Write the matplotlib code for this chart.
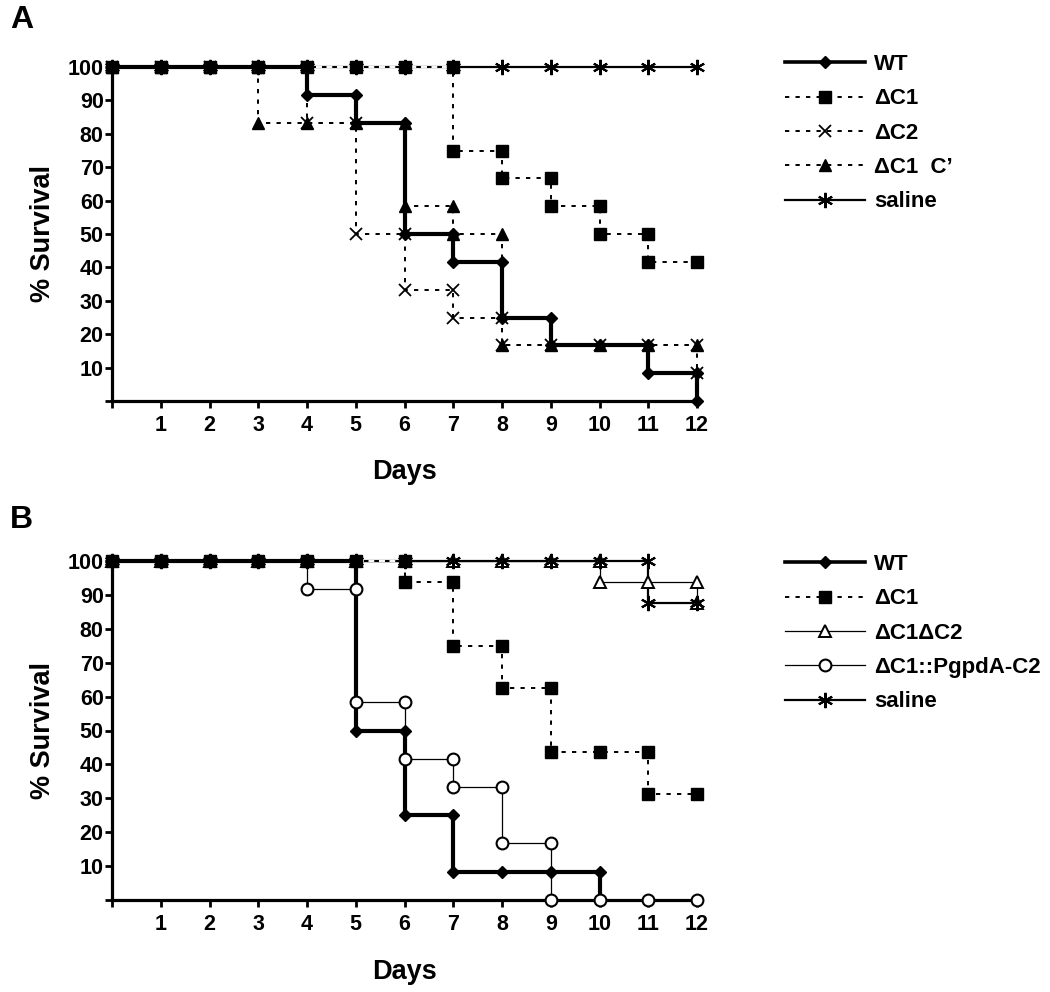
import matplotlib
matplotlib.use("Agg")
import matplotlib.pyplot as plt
from matplotlib.lines import Line2D

plt.rcParams['font.family'] = ['Liberation Sans', 'DejaVu Sans']
plt.rcParams['font.weight'] = 'bold'

# ---------------- data ----------------
days = [0, 1, 2, 3, 4, 5, 6, 7, 8, 9, 10, 11, 12]
x_ticks = [0, 1, 2, 3, 4, 5, 6, 7, 8, 9, 10, 11, 12]
x_ticklabels = ['', '1', '2', '3', '4', '5', '6', '7', '8', '9', '10', '11', '12']
y_ticks = [0, 10, 20, 30, 40, 50, 60, 70, 80, 90, 100]
y_ticklabels = ['', '10', '20', '30', '40', '50', '60', '70', '80', '90', '100']

# Panel A
A_wt = [100, 100, 100, 100, 91.7, 83.3, 50, 41.7, 25, 16.7, 16.7, 8.3, 0]
A_dc1 = [100, 100, 100, 100, 100, 100, 100, 75, 66.7, 58.3, 50, 41.7, 41.7]
A_dc2 = [100, 100, 100, 100, 83.3, 50, 33.3, 25, 16.7, 16.7, 16.7, 16.7, 8.3]
A_dc1c = [100, 100, 100, 83.3, 83.3, 83.3, 58.3, 50, 16.7, 16.7, 16.7, 16.7, 16.7]
A_saline = [100, 100, 100, 100, 100, 100, 100, 100, 100, 100, 100, 100, 100]

# Panel B
B_wt_days = [0, 1, 2, 3, 4, 5, 6, 7, 8, 9, 10]
B_wt = [100, 100, 100, 100, 100, 50, 25, 8.3, 8.3, 8.3, 0]
B_dc1 = [100, 100, 100, 100, 100, 100, 93.75, 75, 62.5, 43.75, 43.75, 31.25, 31.25]
B_dc1dc2 = [100, 100, 100, 100, 100, 100, 100, 100, 100, 100, 93.75, 93.75, 87.5]
B_comp = [100, 100, 100, 100, 91.7, 58.3, 41.7, 33.3, 16.7, 0, 0, 0, 0]
B_saline = [100, 100, 100, 100, 100, 100, 100, 100, 100, 100, 100, 87.5, 87.5]

labels_A = ['WT', 'ΔC1', 'ΔC2', 'ΔC1  C’', 'saline']
labels_B = ['WT', 'ΔC1', 'ΔC1ΔC2', 'ΔC1::PgpdA-C2', 'saline']


def steps(d, s):
    xs, ys = [d[0]], [s[0]]
    for i in range(1, len(d)):
        if s[i] != s[i - 1]:
            xs.append(d[i]); ys.append(s[i - 1])
        xs.append(d[i]); ys.append(s[i])
    return xs, ys


DOT = (0, (2.2, 3.2))

styles = {
    'wt': dict(ls='-', lw=3.0, marker='D', ms=6.5, mfc='black', mec='black', mew=1.0),
    'dc1': dict(ls=DOT, lw=1.4, marker='s', ms=8.5, mfc='black', mec='black', mew=1.0),
    'dc2': dict(ls=DOT, lw=1.4, marker='x', ms=8.5, mfc='black', mec='black', mew=1.3),
    'dc1c': dict(ls=DOT, lw=1.4, marker='^', ms=9, mfc='black', mec='black', mew=1.0),
    'salA': dict(ls='-', lw=1.6, marker=(6, 2, 0), ms=11, mfc='black', mec='black', mew=1.5),
    'dc1dc2': dict(ls='-', lw=0.9, marker='^', ms=9, mfc='white', mec='black', mew=1.4),
    'comp': dict(ls='-', lw=0.9, marker='o', ms=8.5, mfc='white', mec='black', mew=1.5),
    'salB': dict(ls='-', lw=1.6, marker=(6, 2, 0), ms=11, mfc='black', mec='black', mew=1.5),
}


def draw(ax, d, s, st, lz, mz):
    xs, ys = steps(d, s)
    kw = dict(color='black', lw=st['lw'], clip_on=False, zorder=lz)
    if st['ls'] != '-':
        ax.plot(xs, ys, ls=st['ls'], gapcolor='white', solid_capstyle='butt',
                dash_capstyle='butt', **kw)
    else:
        ax.plot(xs, ys, ls='-', **kw)
    ax.plot(xs, ys, ls='none', marker=st['marker'], ms=st['ms'], mfc=st['mfc'],
            mec=st['mec'], mew=st['mew'], clip_on=False, zorder=mz)


def handle(st):
    kw = {}
    if st['ls'] != '-':
        kw['gapcolor'] = 'white'
    return Line2D([], [], color='black', ls=st['ls'], lw=min(st['lw'], 2.6),
                  marker=st['marker'], ms=st['ms'], mfc=st['mfc'], mec=st['mec'],
                  mew=st['mew'], **kw)


def style_axes(ax):
    ax.set_xlim(0, 12)
    ax.set_ylim(0, 100)
    for sp in ['top', 'right']:
        ax.spines[sp].set_visible(False)
    for sp in ['left', 'bottom']:
        ax.spines[sp].set_linewidth(2.3)
    ax.set_xticks(x_ticks)
    ax.set_xticklabels(x_ticklabels)
    ax.set_yticks(y_ticks)
    ax.set_yticklabels(y_ticklabels)
    ax.tick_params(axis='x', direction='out', length=5, width=2.0, pad=5, labelsize=15.5)
    ax.tick_params(axis='y', direction='out', length=5, width=2.0, pad=1, labelsize=15.5)
    for lab in ax.get_xticklabels() + ax.get_yticklabels():
        lab.set_fontweight('bold')
    ax.set_xlabel('Days', fontsize=19.5, fontweight='bold')
    ax.set_ylabel('% Survival', fontsize=19.5, fontweight='bold')
    ax.xaxis.set_label_coords(0.5, -0.175)
    ax.yaxis.set_label_coords(-0.095, 0.5)


fig = plt.figure(figsize=(10.5, 9.92), dpi=100)
W, H = 1050, 992
axA = fig.add_axes([112 / W, 1 - 401 / H, 585 / W, 334 / H])
axB = fig.add_axes([112 / W, 1 - 900 / H, 585 / W, 339 / H])

legprops = dict(frameon=False, borderpad=0, borderaxespad=0, handlelength=3.6,
                handletextpad=0.4, labelspacing=0.6, numpoints=1,
                prop={'family': 'Liberation Sans', 'weight': 'bold', 'size': 16})

# Panel A
draw(axA, days, A_saline, styles['salA'], 2, 6)
draw(axA, days, A_dc2, styles['dc2'], 3, 7)
draw(axA, days, A_dc1c, styles['dc1c'], 3.5, 8)
draw(axA, days, A_dc1, styles['dc1'], 4, 10)
draw(axA, days, A_wt, styles['wt'], 5, 9)
style_axes(axA)
axA.legend([handle(styles['wt']), handle(styles['dc1']), handle(styles['dc2']),
            handle(styles['dc1c']), handle(styles['salA'])], labels_A,
           loc='upper left', bbox_to_anchor=(785 / W, 1 - 54 / H),
           bbox_transform=fig.transFigure, **legprops)

# Panel B
draw(axB, days, B_dc1dc2, styles['dc1dc2'], 2, 6)
draw(axB, days, B_saline, styles['salB'], 2.5, 9)
draw(axB, B_wt_days, B_wt, styles['wt'], 5, 7)
draw(axB, days, B_comp, styles['comp'], 3, 8)
draw(axB, days, B_dc1, styles['dc1'], 4, 8.5)
style_axes(axB)
axB.legend([handle(styles['wt']), handle(styles['dc1']), handle(styles['dc1dc2']),
            handle(styles['comp']), handle(styles['salB'])], labels_B,
           loc='upper left', bbox_to_anchor=(785 / W, 1 - 554 / H),
           bbox_transform=fig.transFigure, **legprops)

fig.text(10 / W, 1 - 20 / H, 'A', fontsize=23, fontweight='bold', va='center', ha='left')
fig.text(10 / W, 1 - 520 / H, 'B', fontsize=23, fontweight='bold', va='center', ha='left')

fig.savefig('out.png', dpi=100, facecolor='white')
